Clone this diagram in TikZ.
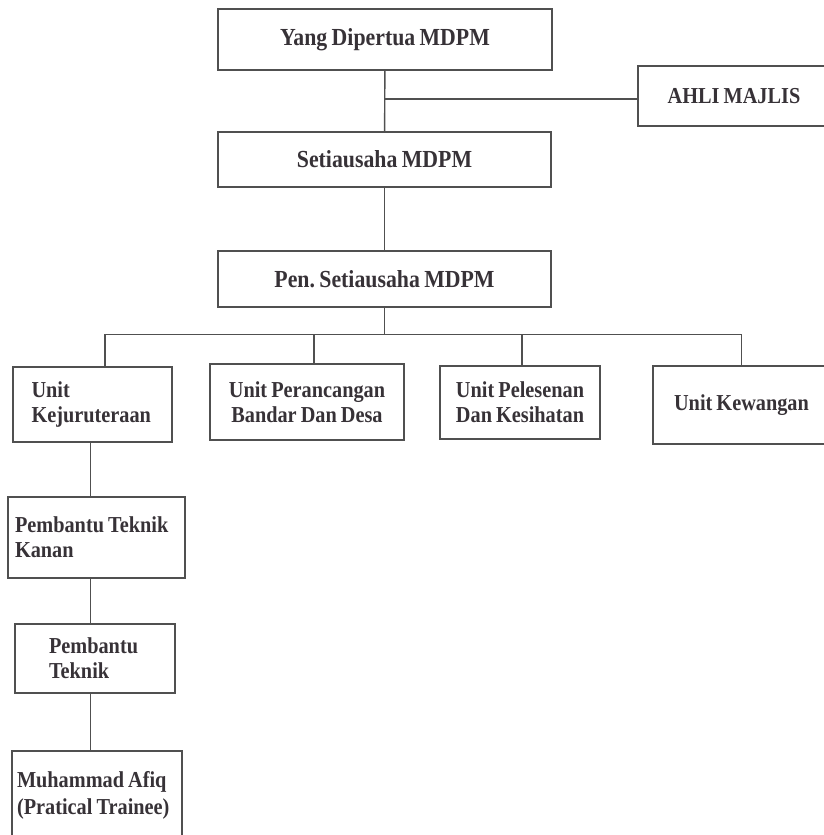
\documentclass[tikz,border=0pt]{standalone}
\usepackage{fontspec}
\setmainfont{Liberation Serif}[FakeStretch=0.89, WordSpace=0.8]
\usepackage{xcolor}
\usepackage{tikz}
\usetikzlibrary{positioning, calc}

\definecolor{inkgray}{RGB}{55,50,55}
\definecolor{linegray}{RGB}{80,80,80}

\begin{document}
\begin{tikzpicture}[
    x=1pt, y=-1pt,
    box/.style={rectangle, draw=linegray, line width=1.4pt, text=inkgray,
                align=center, inner sep=0pt,
                font=\bfseries\fontsize{22.8}{25}\selectfont},
    topbox/.style={box, font=\bfseries\fontsize{24.5}{25}\selectfont},
    leftbox/.style={box, align=flush left},
    line/.style={draw=linegray, line width=1.4pt},
]
    \useasboundingbox (0,0) rectangle (824,835);
    \clip (0,0) rectangle (824,835);

    \node[topbox, minimum width=334pt, minimum height=61pt] (yang) at (385,39.5) {Yang Dipertua MDPM};
    \node[box, minimum width=192pt, minimum height=60pt] (ahli) at (734,96) {AHLI MAJLIS};
    \node[topbox, minimum width=333pt, minimum height=55pt] (seti) at (384.5,159.5) {Setiausaha MDPM};
    \node[topbox, minimum width=333pt, minimum height=56pt] (pen) at (384.5,279) {Pen.\ Setiausaha MDPM};

    % Units
    \node[leftbox, text width=122pt, inner xsep=18.5pt, minimum height=75pt] (kej) at (92.5,404.5) {Unit\\Kejuruteraan};
    \node[box, minimum width=194pt, minimum height=76pt] (per) at (307,402) {Unit Perancangan\\Bandar Dan Desa};
    \node[box, minimum width=160pt, minimum height=73pt] (pel) at (520,402.5) {Unit Pelesenan\\Dan Kesihatan};
    \node[box, minimum width=177pt, minimum height=78pt] (kew) at (741.5,405) {Unit Kewangan};

    % Kejuruteraan chain
    \node[leftbox, text width=163pt, inner xsep=7pt, minimum height=81pt] (pbk) at (96.5,537.5) {Pembantu Teknik\\Kanan};
    \node[leftbox, text width=92pt, inner xsep=34pt, minimum height=69pt] (pbt) at (95,658.5) {Pembantu\\Teknik};
    \node[leftbox, text width=160pt, inner xsep=5pt, minimum height=89pt, font=\bfseries\fontsize{22.8}{27}\selectfont] (afiq) at (97,795.5) {Muhammad Afiq\\(Pratical Trainee)};

    \draw[line] (yang) -- (seti);
    \draw[line] ([yshift=-3pt]ahli.west) -- ([yshift=-3pt]ahli.west -| yang.south);
    \draw[line] (seti) -- (pen);
    \draw[line] (pen.south) -- ++(0,27) coordinate (bar);
    \draw[line] ([xshift=12.5pt]kej.north) |- (bar) -| (kew.north);
    \draw[line] ([xshift=7pt]per.north) -- ([xshift=7pt]per.north |- bar);
    \draw[line] ([xshift=2pt]pel.north) -- ([xshift=2pt]pel.north |- bar);

    \draw[line] ([xshift=-2pt]kej.south) -- ([xshift=-2pt]kej.south |- pbk.north);
    \draw[line] ([xshift=-2pt]kej.south |- pbk.south) -- ([xshift=-2pt]kej.south |- pbt.north);
    \draw[line] ([xshift=-2pt]kej.south |- pbt.south) -- ([xshift=-2pt]kej.south |- afiq.north);
\end{tikzpicture}
\end{document}
